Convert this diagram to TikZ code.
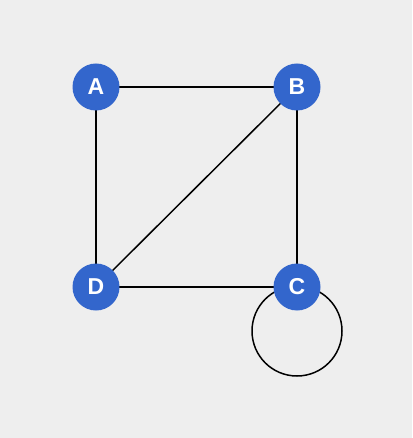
\documentclass[tikz,border=0pt]{standalone}
\usepackage{fontspec}
\setmainfont{Liberation Sans}
\definecolor{bgcol}{HTML}{EEEEEE}
\definecolor{nodeblue}{HTML}{3366CC}
\pgfdeclarelayer{bg}
\pgfdeclarelayer{edges}
\pgfsetlayers{bg,edges,main}
\begin{document}
\begin{tikzpicture}[x=1pt,y=-1pt,
  vertex/.style={circle,fill=nodeblue,minimum size=47pt,inner sep=0pt,text=white,font=\bfseries\fontsize{23}{26}\selectfont},
  link/.style={draw=black,line width=1.5pt}]
\begin{pgfonlayer}{bg}
\fill[bgcol] (0,0) rectangle (412,438);
\end{pgfonlayer}
\useasboundingbox (0,0) rectangle (412,438);
\node[vertex] (A) at (96,87) {A};
\node[vertex] (B) at (297,87) {B};
\node[vertex] (D) at (96,287) {D};
\node[vertex] (C) at (297,287) {C};
\begin{pgfonlayer}{edges}
\draw[link] (A.center) -- (B.center);
\draw[link] (A.center) -- (D.center);
\draw[link] (B.center) -- (C.center);
\draw[link] (B.center) -- (D.center);
\draw[link] (D.center) -- (C.center);
\draw[link] ([yshift=-44pt]C.center) circle[radius=45pt];
\end{pgfonlayer}
\end{tikzpicture}
\end{document}
